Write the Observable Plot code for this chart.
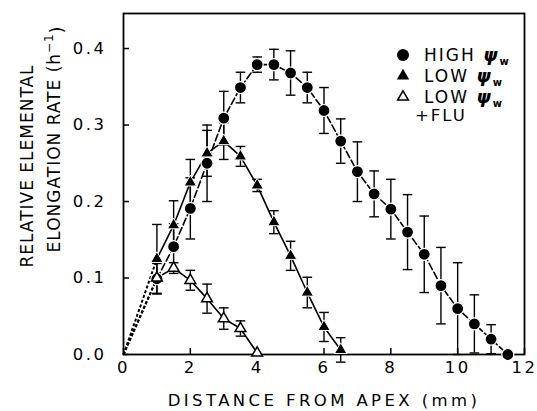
<!DOCTYPE html>
<html><head><meta charset="utf-8">
<script src="https://cdn.jsdelivr.net/npm/d3@7"></script>
<script src="https://cdn.jsdelivr.net/npm/@observablehq/plot@0.6"></script>
<style>
body{margin:0;background:#fff;}
#chart svg{font-family:"DejaVu Sans",sans-serif;}
</style></head><body><div id="chart"></div>
<script>
// ---- data ----
const highX = [1,1.5,2,2.5,3,3.5,4,4.5,5,5.5,6,6.5,7,7.5,8,8.5,9,9.5,10,10.5,11,11.5];
const highY = [0.099,0.141,0.191,0.250,0.309,0.349,0.379,0.379,0.368,0.349,0.319,0.279,0.239,0.210,0.190,0.160,0.131,0.090,0.060,0.040,0.020,0.000];
const highErr = [0.020,0.030,0.040,0.050,0.035,0.020,0.010,0.020,0.029,0.020,0.030,0.029,0.039,0.030,0.039,0.049,0.050,0.050,0.060,0.038,0.019,0];

const lowX = [1,1.5,2,2.5,3,3.5,4,4.5,5,5.5,6,6.5];
const lowY = [0.125,0.169,0.225,0.263,0.279,0.259,0.221,0.173,0.129,0.081,0.036,0.006];
const lowErr = [0.045,0.032,0.030,0.030,0.024,0.013,0.008,0.015,0.019,0.020,0.019,0.016];

const fluX = [1,1.5,2,2.5,3,3.5,4];
const fluY = [0.100,0.113,0.097,0.073,0.047,0.034,0.002];
const fluErr = [0,0.007,0.013,0.019,0.014,0.010,0];

const originX = [0,0,0];
const originY = [0,0,0];

const xTicks = [0,2,4,6,8,10,12];
const yTicks = [0.0,0.1,0.2,0.3,0.4];
const xLabel = "DISTANCE FROM APEX (mm)";
const yLabel1 = "RELATIVE ELEMENTAL";
const yLabel2 = "ELONGATION RATE (h";
const legendText = ["HIGH", "LOW", "LOW"];

// ---- build ----
const rows = (xs, ys, es) => xs.map((x, i) => ({x, y: ys[i], e: es[i]}));
const high = rows(highX, highY, highErr);
const low = rows(lowX, lowY, lowErr);
const flu = rows(fluX, fluY, fluErr);
const bars = [...high, ...low, ...flu].filter(d => d.e > 0);
const firsts = [high[0], low[0], flu[0]].map((d, i) => ({x1: originX[i], y1: originY[i], x2: d.x, y2: d.y}));

const capSymbol = {draw(ctx, size) { const r = Math.sqrt(size / Math.PI); ctx.moveTo(-r, 0); ctx.lineTo(r, 0); }};
const FONT = "DejaVu Sans";

const plot = Plot.plot({
  width: 537, height: 411,
  marginLeft: 123, marginRight: 13, marginTop: 13, marginBottom: 57,
  x: {domain: [0, 12]},
  y: {domain: [0, 0.4458]},
  style: {fontFamily: FONT, fontSize: "16.5px", background: "white", color: "black", overflow: "visible"},
  marks: [
    Plot.axisX(xTicks, {tickSize: -6, tickPadding: 13, label: null, tickFormat: d => String(d), strokeWidth: 1.5}),
    Plot.axisY(yTicks, {tickSize: -6, tickPadding: 23, label: null, tickFormat: d3.format(".1f"), strokeWidth: 1.5}),
    Plot.frame({strokeWidth: 1.8}),
    Plot.link(firsts, {x1: "x1", y1: "y1", x2: "x2", y2: "y2", strokeWidth: 2, strokeDasharray: "3,2"}),
    Plot.line(high, {x: "x", y: "y", strokeWidth: 1.6, strokeDasharray: "7,3"}),
    Plot.line(low, {x: "x", y: "y", strokeWidth: 1.6}),
    Plot.line(flu, {x: "x", y: "y", strokeWidth: 1.6}),
    Plot.ruleX(bars, {x: "x", y1: d => d.y - d.e, y2: d => d.y + d.e, strokeWidth: 1.4}),
    Plot.dot(bars, {x: "x", y: d => d.y - d.e, symbol: capSymbol, r: 4.8, stroke: "black", strokeWidth: 1.4}),
    Plot.dot(bars, {x: "x", y: d => d.y + d.e, symbol: capSymbol, r: 4.8, stroke: "black", strokeWidth: 1.4}),
    Plot.dot(high, {x: "x", y: "y", r: 6, fill: "black", stroke: "white", strokeWidth: 1.2}),
    Plot.dot(low, {x: "x", y: "y", symbol: "triangle", r: 4.6, fill: "black", stroke: "white", strokeWidth: 1}),
    Plot.dot(flu, {x: "x", y: "y", symbol: "triangle", r: 4, fill: "white", stroke: "black", strokeWidth: 1.5})
  ]
});

const svg = d3.select(plot);
svg.selectAll("text").attr("letter-spacing", "2.5px");

// x label
svg.append("text").attr("x", 324).attr("y", 406).attr("text-anchor", "middle")
  .attr("font-size", 16.5).attr("letter-spacing", "3.4px").attr("fill", "black").text(xLabel);

// y label (two lines)
svg.append("text").attr("transform", "translate(33,166) rotate(-90)").attr("text-anchor", "middle")
  .attr("font-size", 17).attr("letter-spacing", "1px").attr("fill", "black").text(yLabel1);
const y2 = svg.append("text").attr("transform", "translate(60,139) rotate(-90)").attr("text-anchor", "middle")
  .attr("font-size", 17).attr("letter-spacing", "1px").attr("fill", "black");
y2.append("tspan").text(yLabel2);
y2.append("tspan").attr("dy", "-0.6em").attr("font-size", 12).text("−1");
y2.append("tspan").attr("dy", "0.6em").text(")");

// legend
const lg = svg.append("g").attr("fill", "black").attr("text-anchor", "start");
const sym = (type, sz) => d3.symbol(type, sz)();
lg.append("path").attr("d", sym(d3.symbolCircle, Math.PI * 36)).attr("transform", "translate(403,55)");
lg.append("path").attr("d", sym(d3.symbolTriangle, Math.PI * 4.6 * 4.6)).attr("transform", "translate(403,76)");
lg.append("path").attr("d", sym(d3.symbolTriangle, Math.PI * 16)).attr("transform", "translate(403,97)")
  .attr("fill", "white").attr("stroke", "black").attr("stroke-width", 1.5);
const rowsY = [61, 82, 103];
legendText.forEach((t, i) => {
  const tx = lg.append("text").attr("x", 424).attr("y", rowsY[i]).attr("font-size", 17)
    .attr("letter-spacing", "2px").attr("text-anchor", "start");
  tx.append("tspan").text(t + " ");
  tx.append("tspan").attr("font-style", "italic").attr("font-weight", "bold").attr("font-size", 18).text("ψ");
  tx.append("tspan").attr("dy", 4).attr("font-weight", "bold").attr("font-size", 10).text("w");
});
lg.append("text").attr("x", 415).attr("y", 121).attr("font-size", 16.5).attr("letter-spacing", "2px")
  .attr("text-anchor", "start").text("+FLU");

document.getElementById("chart").append(plot);
</script></body></html>
